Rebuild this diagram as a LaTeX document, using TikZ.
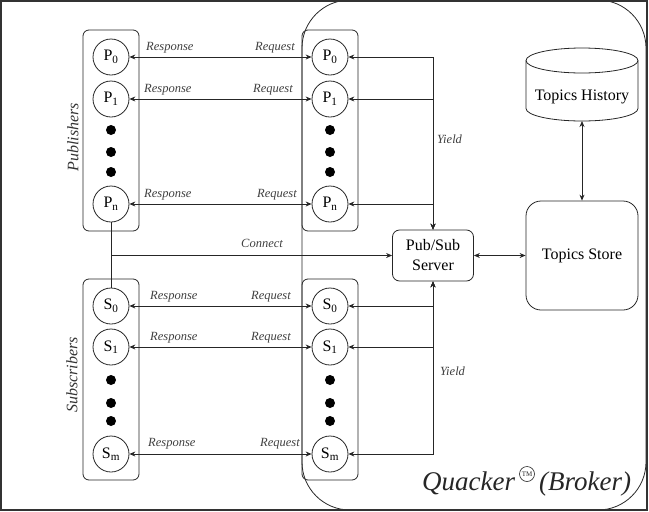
\documentclass[tikz,border=0pt]{standalone}
\usepackage{fontspec}
\setmainfont{Liberation Serif}
\usetikzlibrary{arrows.meta}
\begin{document}
\begin{tikzpicture}[x=1pt,y=-1pt,
  ln/.style={draw=black!85, line width=0.8pt},
  tip/.tip={Stealth[length=6pt,width=5pt]},
  arr/.style={-tip},
  darr/.style={tip-tip},
  circ/.style={circle, draw=black!85, line width=0.8pt, minimum size=36pt, inner sep=0pt, font=\fontsize{16}{16}\selectfont},
  dotn/.style={circle, fill=black, minimum size=10pt, inner sep=0pt},
  stackbox/.style={draw=black!85, rounded corners=6pt, line width=0.8pt, minimum width=56pt, minimum height=201pt},
  lbl/.style={font=\fontsize{12.5}{13}\selectfont\itshape, text=black!75, inner sep=0pt},
  big/.style={font=\fontsize{16}{20}\selectfont}
]
\useasboundingbox (0,0) rectangle (649,512);
\begin{scope}
\clip (1,1) rectangle (647,510);
\draw[ln, rounded corners=48pt] (302,0) rectangle (646,510);
\end{scope}
\draw[line width=2pt, black!80] (1,1) rectangle (647,510);

% stack boxes
\node[stackbox] (pubL) at (111,130.5) {};
\node[stackbox] (pubR) at (330,130.5) {};
\node[stackbox] (subL) at (111,379.5) {};
\node[stackbox] (subR) at (330,379.5) {};

% group labels
\node[rotate=90, font=\fontsize{16}{16}\selectfont\itshape, text=black!80] (publab) at (73,137) {Publishers};
\node[rotate=90, font=\fontsize{16}{16}\selectfont\itshape, text=black!80] (sublab) at (72,375) {Subscribers};

% circles
\foreach \side/\x in {l/111, r/330} {
  \node[circ] (p\side0) at (\x,57) {P\textsubscript{0}};
  \node[circ] (p\side1) at (\x,99) {P\textsubscript{1}};
  \node[dotn] (pd\side a) at (\x,130) {};
  \node[dotn] (pd\side b) at (\x,152) {};
  \node[dotn] (pd\side c) at (\x,172) {};
  \node[circ] (p\side n) at (\x,204) {P\textsubscript{n}};
  \node[circ] (s\side0) at (\x,306) {S\textsubscript{0}};
  \node[circ] (s\side1) at (\x,347) {S\textsubscript{1}};
  \node[dotn] (sd\side a) at (\x,380) {};
  \node[dotn] (sd\side b) at (\x,403) {};
  \node[dotn] (sd\side c) at (\x,421) {};
  \node[circ] (s\side m) at (\x,454) {S\textsubscript{m}};
}

% request / response
\foreach \r in {0, 1, n} {
  \draw[ln, darr] (pl\r) -- (pr\r);
}
\foreach \r in {0, 1, m} {
  \draw[ln, darr] (sl\r) -- (sr\r);
}
\node[lbl, anchor=west] (rsp0) at (146,48) {Response};
\node[lbl, anchor=east] (rq0) at (295,48) {Request};
\node[lbl, anchor=west] (rsp1) at (144,90) {Response};
\node[lbl, anchor=east] (rq1) at (293,90) {Request};
\node[lbl, anchor=west] (rspn) at (144,195) {Response};
\node[lbl, anchor=east] (rqn) at (297,195) {Request};
\node[lbl, anchor=west] (srsp0) at (150,297) {Response};
\node[lbl, anchor=east] (srq0) at (291,297) {Request};
\node[lbl, anchor=west] (srsp1) at (150,338) {Response};
\node[lbl, anchor=east] (srq1) at (291,338) {Request};
\node[lbl, anchor=west] (srspm) at (148,444) {Response};
\node[lbl, anchor=east] (srqm) at (300,444) {Request};

% server
\node[draw=black!85, line width=0.8pt, rounded corners=7pt, minimum width=81pt, minimum height=51pt, align=center, big, inner sep=0pt] (srv) at (433,255.5) {Pub/Sub\\Server};

% yield
\foreach \r in {0,1,n} { \draw[ln, darr] (pr\r.east) -| (srv.north); }
\foreach \r in {0,1,m} { \draw[ln, darr] (sr\r.east) -| (srv.south); }
\node[lbl, anchor=west] (y1) at (437,139) {Yield};
\node[lbl, anchor=west] (y2) at (440,371) {Yield};

% connect
\coordinate (cj) at (111,255.5);
\draw[ln] (pln) -- (sl0);
\draw[ln, arr] (cj) -- (srv.west);
\node[lbl] (conn) at (262,243) {Connect};

% topics store
\node[draw=black!85, line width=0.8pt, rounded corners=15pt, minimum width=112pt, minimum height=109pt, big] (store) at (582,255.5) {Topics Store};
\draw[ln, darr] (srv) -- (store);

% topics history cylinder
\draw[ln] (526,60.5) -- (526,108.5) arc[start angle=180, end angle=360, x radius=56pt, y radius=12.5pt] -- (638,60.5);
\draw[ln] (582,60.5) ellipse [x radius=56pt, y radius=12.5pt];
\node[big] (hist) at (582,97) {Topics History};
\coordinate (histb) at (582,121);
\draw[ln, darr] (histb) -- (store.north);

% Quacker label
\node[anchor=base west, font=\fontsize{27}{27}\selectfont\itshape, inner sep=0pt, text=black!85] (quack) at (422,490) {Quacker};
\node[circle, draw=black!85, line width=0.6pt, inner sep=0pt, minimum size=15pt, font=\fontsize{7}{7}\selectfont, text=black!85] (tm) at (527,474) {TM};
\node[anchor=base west, font=\fontsize{27}{27}\selectfont\itshape, inner sep=0pt, text=black!85] (brk) at (539,490) {(Broker)};
\end{tikzpicture}
\end{document}
